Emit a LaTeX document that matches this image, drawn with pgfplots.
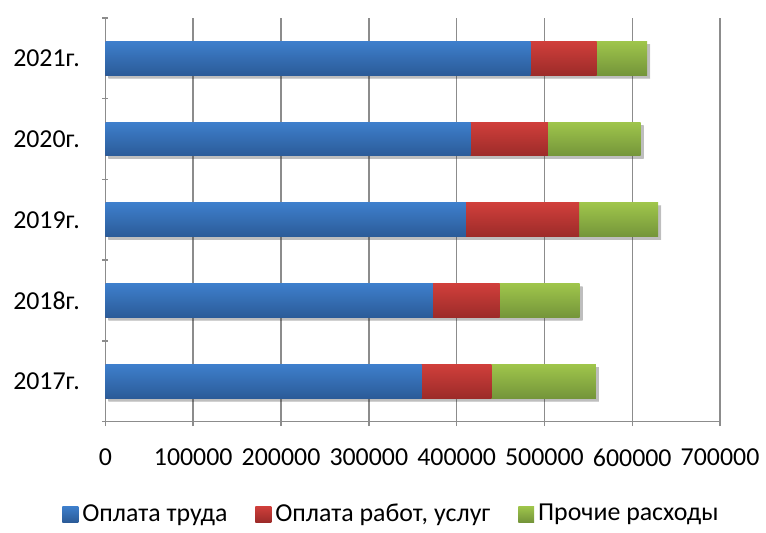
\documentclass[border=0pt]{standalone}
\usepackage{pgfplots}
\pgfplotsset{compat=1.18}
\usepackage{fontspec}
\setmainfont{Carlito}
\usetikzlibrary{shadows}
\definecolor{bT}{HTML}{3E7FCC}
\definecolor{bB}{HTML}{2B5B98}
\definecolor{rT}{HTML}{D03F3B}
\definecolor{rB}{HTML}{9C2B29}
\definecolor{gT}{HTML}{9FC54B}
\definecolor{gB}{HTML}{74953A}
\definecolor{gridc}{HTML}{8C8C8C}
\pgfplotsset{
  blueb/.style={forget plot, draw=none, top color=bT, bottom color=bB},
  redb/.style={forget plot, draw=none, top color=rT, bottom color=rB},
  greenb/.style={forget plot, draw=none, top color=gT, bottom color=gB,
     drop shadow={shadow xshift=1.5pt, shadow yshift=-1.5pt, opacity=0.18,
       top color=black, bottom color=black}},
}
\begin{document}
\begin{tikzpicture}
\begin{axis}[
  name=ax,
  scale only axis,
  width=309pt, height=203pt,
  xbar, bar shift=0pt,
  bar width=17pt,
  xmin=0, xmax=700000,
  ymin=-0.5, ymax=4.5,
  xtick={0,100000,...,700000},
  ytick={0,1,2,3,4},
  yticklabels={2017г.,2018г.,2019г.,2020г.,2021г.},
  minor ytick={-0.5,0.5,...,4.5},
  major y tick style={draw=none},
  minor tick length=3pt,
  major tick length=4.5pt,
  tick align=outside,
  tick style={gridc, line width=0.75pt},
  axis lines=left,
  axis line style={-, gridc, line width=0.75pt},
  xmajorgrids,
  grid style={gridc, line width=0.75pt},
  scaled x ticks=false,
  /pgf/number format/.cd, fixed, set thousands separator={}, assume math mode=true,
  /pgfplots/.cd,
  tick label style={font=\fontsize{13}{16}\selectfont},
  xticklabel style={yshift=-8pt},
  yticklabel style={xshift=-7pt},
  legend style={draw=none, fill=none, legend columns=3,
    font=\fontsize{13}{16}\selectfont,
    nodes={inner xsep=2pt},
    at={(0.467,-0.229)}, anchor=center,
    /tikz/every even column/.append style={column sep=12pt}},
  legend image code/.code={\path[#1,draw=none] (0pt,-4pt) rectangle (8pt,4pt);},
]
% total (end of green segment)
\addplot[greenb] coordinates {(558500,0)};
\addplot[greenb] coordinates {(540000,1)};
\addplot[greenb] coordinates {(629500,2)};
\addplot[greenb] coordinates {(609500,3)};
\addplot[greenb] coordinates {(617000,4)};
% end of red segment
\addplot[redb] coordinates {(439500,0)};
\addplot[redb] coordinates {(449000,1)};
\addplot[redb] coordinates {(539500,2)};
\addplot[redb] coordinates {(504000,3)};
\addplot[redb] coordinates {(559500,4)};
% end of blue segment
\addplot[blueb] coordinates {(360000,0)};
\addplot[blueb] coordinates {(373000,1)};
\addplot[blueb] coordinates {(410500,2)};
\addplot[blueb] coordinates {(416000,3)};
\addplot[blueb] coordinates {(484000,4)};
\addlegendimage{draw=none, top color=bT, bottom color=bB}
\addlegendentry{Оплата труда}
\addlegendimage{draw=none, top color=rT, bottom color=rB}
\addlegendentry{Оплата работ, услуг}
\addlegendimage{draw=none, top color=gT, bottom color=gB}
\addlegendentry{Прочие расходы}
\end{axis}
\path[use as bounding box] ([xshift=-53pt,yshift=-53pt]ax.south west) rectangle ([xshift=21pt,yshift=9pt]ax.north east);
\end{tikzpicture}
\end{document}
